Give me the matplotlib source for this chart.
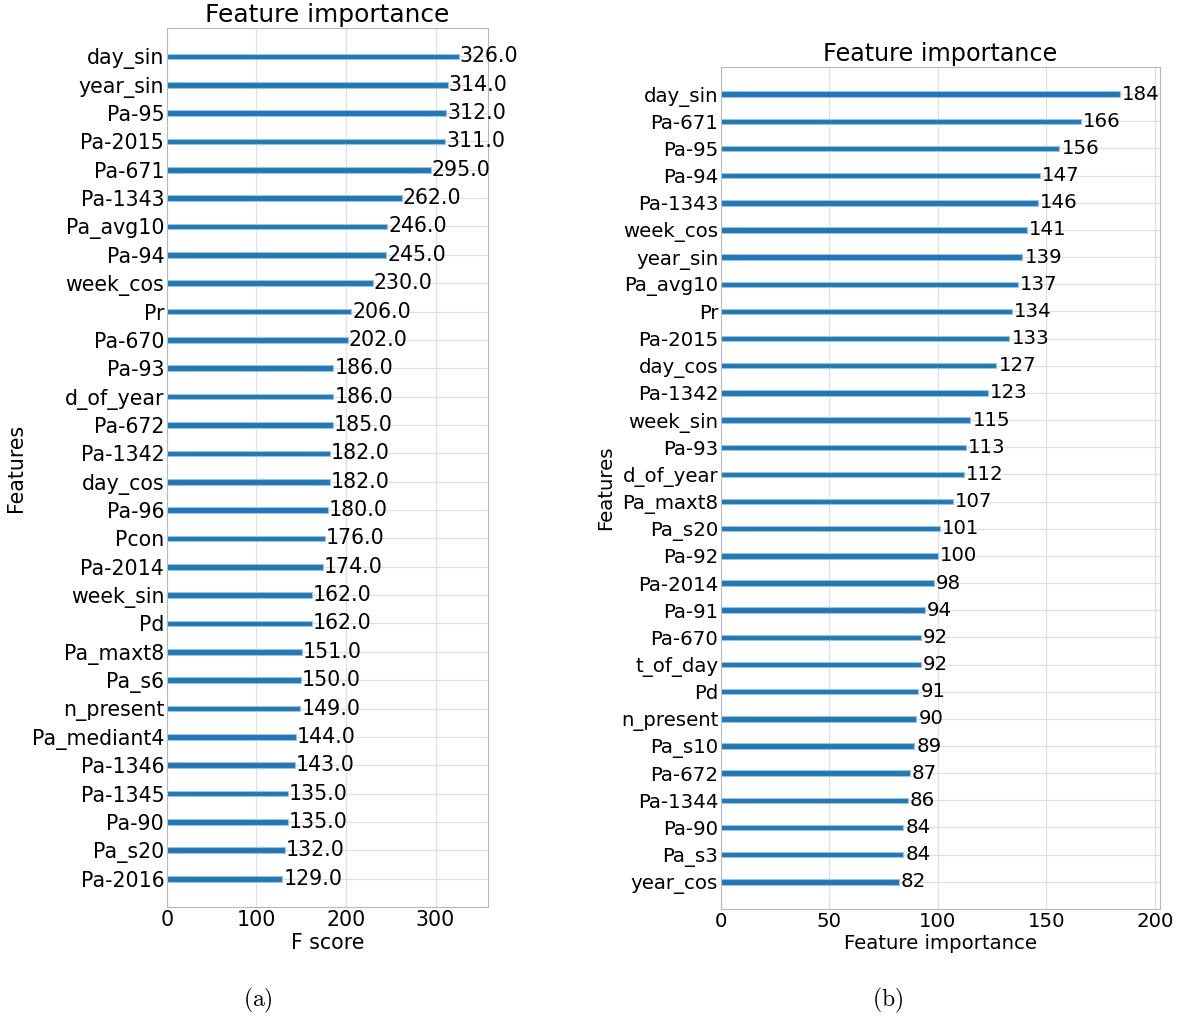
import matplotlib
matplotlib.use('Agg')
import matplotlib.pyplot as plt

# (a) F score per feature, top to bottom
A_FEATURES = ['day_sin', 'year_sin', 'Pa-95', 'Pa-2015', 'Pa-671', 'Pa-1343',
              'Pa_avg10', 'Pa-94', 'week_cos', 'Pr', 'Pa-670', 'Pa-93',
              'd_of_year', 'Pa-672', 'Pa-1342', 'day_cos', 'Pa-96', 'Pcon',
              'Pa-2014', 'week_sin', 'Pd', 'Pa_maxt8', 'Pa_s6', 'n_present',
              'Pa_mediant4', 'Pa-1346', 'Pa-1345', 'Pa-90', 'Pa_s20', 'Pa-2016']
A_SCORES = [326, 314, 312, 311, 295, 262, 246, 245, 230, 206, 202, 186,
            186, 185, 182, 182, 180, 176, 174, 162, 162, 151, 150, 149,
            144, 143, 135, 135, 132, 129]

# (b) feature importance, top to bottom
B_FEATURES = ['day_sin', 'Pa-671', 'Pa-95', 'Pa-94', 'Pa-1343', 'week_cos',
              'year_sin', 'Pa_avg10', 'Pr', 'Pa-2015', 'day_cos', 'Pa-1342',
              'week_sin', 'Pa-93', 'd_of_year', 'Pa_maxt8', 'Pa_s20', 'Pa-92',
              'Pa-2014', 'Pa-91', 'Pa-670', 't_of_day', 'Pd', 'n_present',
              'Pa_s10', 'Pa-672', 'Pa-1344', 'Pa-90', 'Pa_s3', 'year_cos']
B_SCORES = [184, 166, 156, 147, 146, 141, 139, 137, 134, 133, 127, 123,
            115, 113, 112, 107, 101, 100, 98, 94, 92, 92, 91, 90,
            89, 87, 86, 84, 84, 82]

BAR_COLOR = '#2377b4'
GRID_COLOR = '#e0e0e0'
SPINE_COLOR = '#b8b8b8'


# draw one importance panel, xgboost style
def importancePanel(ax, features, scores, xlabel, fmt, xticks, fs, tfs):
    names = features[::-1]
    vals = scores[::-1]
    ylocs = list(range(len(vals)))
    ax.barh(ylocs, vals, height=0.2, align='center', color=BAR_COLOR,
            edgecolor='#9cc3e0', linewidth=0.8, zorder=3)
    for y, v in zip(ylocs, vals):
        ax.text(v + 1, y, fmt.format(v), va='center', fontsize=fs, zorder=4)
    ax.set_yticks(ylocs)
    ax.set_yticklabels(names, fontsize=fs)
    ax.set_xticks(xticks)
    ax.tick_params(axis='x', labelsize=fs)
    ax.tick_params(length=0, pad=2)
    ax.set_xlim(0, max(scores) * 1.1)
    ax.set_ylim(-1, len(vals))
    ax.grid(True, color=GRID_COLOR, linewidth=0.9, zorder=0)
    ax.set_axisbelow(True)
    for s in ax.spines.values():
        s.set_color(SPINE_COLOR)
    ax.set_title('Feature importance', fontsize=tfs, pad=4)
    ax.set_xlabel(xlabel, fontsize=fs, labelpad=2)
    ax.set_ylabel('Features', fontsize=fs)


def main():
    plt.rcParams['mathtext.fontset'] = 'cm'
    fig = plt.figure(figsize=(11.85, 10.18), dpi=100)
    axA = fig.add_axes([0.1409, 0.109, 0.2709, 0.8635])
    axB = fig.add_axes([0.6084, 0.1071, 0.3705, 0.8271])
    importancePanel(axA, A_FEATURES, A_SCORES, 'F score', '{:.1f}', [0, 100, 200, 300], 14.8, 17.9)
    importancePanel(axB, B_FEATURES, B_SCORES, 'Feature importance', '{:d}', [0, 50, 100, 150, 200], 14.2, 17.2)
    fig.text(258 / 1185, 1 - 1000 / 1018, r'$\mathrm{(a)}$', ha='center', va='center', fontsize=17)
    fig.text(888 / 1185, 1 - 1000 / 1018, r'$\mathrm{(b)}$', ha='center', va='center', fontsize=17)
    fig.savefig('out.png', dpi=100)


if __name__ == '__main__':
    main()
